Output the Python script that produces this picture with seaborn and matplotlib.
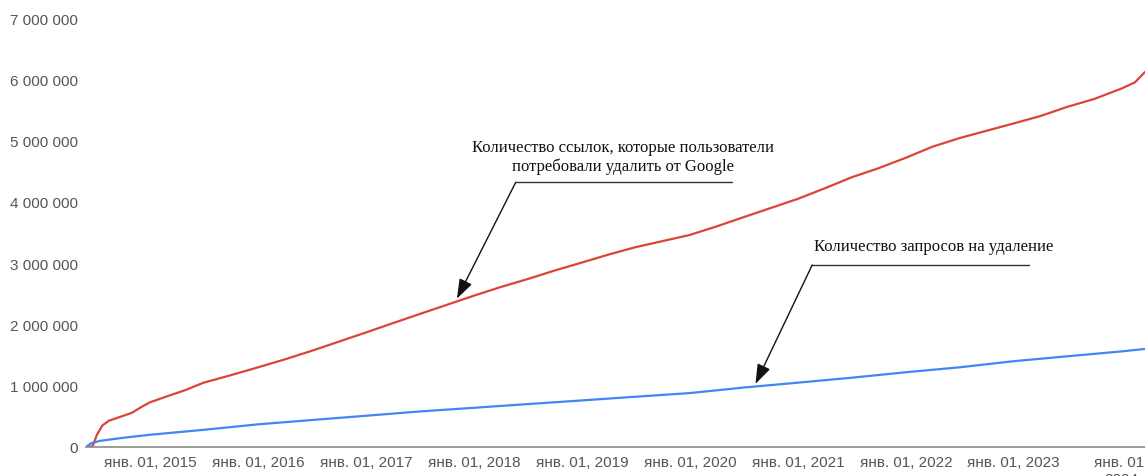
import matplotlib
matplotlib.use("Agg")
import matplotlib.pyplot as plt
import matplotlib.dates as mdates
import seaborn as sns
import pandas as pd
import numpy as np

# ---------------- data (values in units) ----------------
red_dates = ["2014-05-29", "2014-06-20", "2014-07-05", "2014-07-23", "2014-08-15", "2014-09-27",
             "2014-11-01", "2014-12-05", "2015-01-01", "2015-03-01", "2015-05-01", "2015-07-01",
             "2015-09-15", "2016-01-01", "2016-04-01", "2016-07-01", "2016-10-01", "2017-01-01",
             "2017-04-01", "2017-07-01", "2017-10-01", "2018-01-01", "2018-04-01", "2018-07-01",
             "2018-10-01", "2019-01-01", "2019-04-01", "2019-07-01", "2019-10-01", "2020-01-01",
             "2020-04-01", "2020-07-01", "2020-10-01", "2021-01-01", "2021-04-01", "2021-07-01",
             "2021-10-01", "2022-01-01", "2022-04-01", "2022-07-01", "2022-10-01", "2023-01-01",
             "2023-04-01", "2023-07-01", "2023-10-01", "2024-01-01", "2024-02-15", "2024-03-20"]
red_values = [0, 10000, 200000, 350000, 430000, 500000,
              560000, 660000, 730000, 830000, 930000, 1050000,
              1150000, 1300000, 1430000, 1570000, 1720000, 1870000,
              2020000, 2170000, 2320000, 2470000, 2610000, 2740000,
              2880000, 3010000, 3140000, 3260000, 3360000, 3460000,
              3600000, 3750000, 3900000, 4050000, 4220000, 4400000,
              4550000, 4720000, 4900000, 5040000, 5160000, 5280000,
              5400000, 5550000, 5680000, 5850000, 5950000, 6120000]

blue_dates = ["2014-05-29", "2014-06-15", "2014-07-15", "2014-10-01", "2015-01-01", "2015-07-01",
              "2016-01-01", "2016-07-01", "2017-01-01", "2017-07-01", "2018-01-01", "2018-07-01",
              "2019-01-01", "2019-07-01", "2020-01-01", "2020-07-01", "2021-01-01", "2021-07-01",
              "2022-01-01", "2022-07-01", "2023-01-01", "2023-07-01", "2024-01-01", "2024-03-20"]
blue_values = [0, 60000, 100000, 150000, 200000, 280000,
               370000, 440000, 510000, 580000, 640000, 700000,
               760000, 820000, 880000, 970000, 1050000, 1130000,
               1220000, 1300000, 1400000, 1480000, 1560000, 1600000]

series_names = ["Количество ссылок", "Количество запросов"]
series_colors = ["#DB4437", "#4285F4"]

ytick_values = [0, 1000000, 2000000, 3000000, 4000000, 5000000, 6000000, 7000000]
xtick_dates = ["2015-01-01", "2016-01-01", "2017-01-01", "2018-01-01", "2019-01-01",
               "2020-01-01", "2021-01-01", "2022-01-01", "2023-01-01", "2024-01-01"]
xtick_labels = ["янв. 01, 2015", "янв. 01, 2016", "янв. 01, 2017", "янв. 01, 2018",
                "янв. 01, 2019", "янв. 01, 2020", "янв. 01, 2021", "янв. 01, 2022",
                "янв. 01, 2023", "янв. 01,\n2024"]

# annotations
ann_red_text = "Количество ссылок, которые пользователи\nпотребовали удалить от Google"
ann_red = dict(text_x="2019-05-19", text_y=4740000, line_x0="2018-05-22", line_x1="2020-05-21",
               line_y=4320000, tip_x="2017-11-04", tip_y=2420000)
ann_blue_text = "Количество запросов на удаление"
ann_blue = dict(text_x="2022-04-05", text_y=3280000, line_x0="2021-02-18", line_x1="2023-02-22",
                line_y=2970000, tip_x="2020-08-10", tip_y=1030000)

# ---------------- build dataframe ----------------
df = pd.concat([
    pd.DataFrame({"date": pd.to_datetime(red_dates), "value": red_values, "series": series_names[0]}),
    pd.DataFrame({"date": pd.to_datetime(blue_dates), "value": blue_values, "series": series_names[1]}),
], ignore_index=True)

sns.set_theme(style="white")
plt.rcParams["font.family"] = ["Liberation Sans", "DejaVu Sans"]

fig = plt.figure(figsize=(11.45, 4.77), dpi=100)
ax = fig.add_axes([86 / 1145, 29 / 477, 1 - 86 / 1145, (448 - 19) / 477])

sns.lineplot(data=df, x="date", y="value", hue="series", palette=series_colors,
             hue_order=series_names, linewidth=1.6, legend=False, ax=ax)

ax.set_xlim(pd.Timestamp("2014-05-29"), pd.Timestamp("2024-03-20"))
ax.set_ylim(0, 7000000)
ax.set_yticks(ytick_values)
ax.set_yticklabels([f"{v:,.0f}".replace(",", " ") for v in ytick_values])
ax.set_xticks(pd.to_datetime(xtick_dates))
ax.set_xticklabels(xtick_labels)
ax.set_xlabel("")
ax.set_ylabel("")

for s in ["top", "right", "left"]:
    ax.spines[s].set_visible(False)
ax.spines["bottom"].set_color("#8a8a8a")
ax.spines["bottom"].set_linewidth(1.2)
ax.tick_params(axis="both", length=0, labelsize=11, labelcolor="#555555")
ax.tick_params(axis="y", pad=6)
ax.tick_params(axis="x", pad=6)
ax.grid(False)

serif = ["Liberation Serif", "DejaVu Serif"]
for txt, a in [(ann_red_text, ann_red), (ann_blue_text, ann_blue)]:
    ax.text(pd.Timestamp(a["text_x"]), a["text_y"], txt, ha="center", va="center",
            family=serif, fontsize=12, color="#111111", linespacing=1.15)
    ax.plot([pd.Timestamp(a["line_x0"]), pd.Timestamp(a["line_x1"])], [a["line_y"], a["line_y"]],
            color="#333333", lw=1.0)
    ax.annotate("", xy=(pd.Timestamp(a["tip_x"]), a["tip_y"]),
                xytext=(pd.Timestamp(a["line_x0"]), a["line_y"]),
                arrowprops=dict(arrowstyle="-|>,head_length=1.0,head_width=0.35",
                                color="#111111", lw=1.0, shrinkA=0, shrinkB=0))

fig.savefig("out.png", dpi=100)
